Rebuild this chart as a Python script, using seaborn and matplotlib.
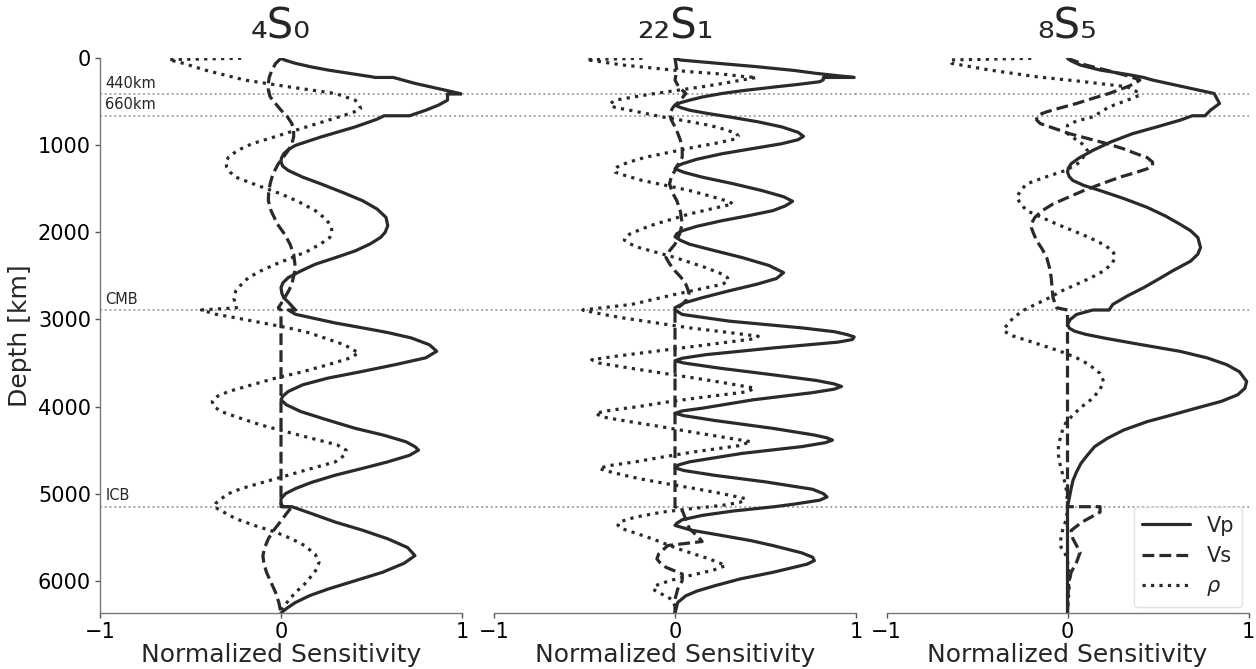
import numpy as np
import pandas as pd
import matplotlib
matplotlib.use("Agg")
import matplotlib.pyplot as plt
from matplotlib.lines import Line2D
import seaborn as sns

# ---------------- data ----------------
titles = ["\u2084S\u2080", "\u2082\u2082S\u2081", "\u2088S\u2085"]
series_labels = ["Vp", "Vs", r"$\rho$"]
boundary_depths = [410, 660, 2891, 5150]
boundary_labels = ["440km", "660km", "CMB", "ICB"]
x_ticks = [-1, 0, 1]
y_ticks = [0, 1000, 2000, 3000, 4000, 5000, 6000]

# panel 1 : 4S0
d_vp1 = [0, 20, 58, 100, 135, 180, 212, 220, 220, 288, 358, 410, 410, 481, 538, 596, 660, 660, 700, 788, 904,
         1000, 1050, 1096, 1150, 1192, 1240, 1288, 1365, 1442, 1540, 1635, 1730, 1827, 1923, 2000, 2058, 2135,
         2212, 2290, 2365, 2442, 2519, 2580, 2635, 2700, 2750, 2800, 2846, 2891, 2891, 2940, 2981, 3040, 3096,
         3150, 3212, 3290, 3365, 3440, 3519, 3600, 3673, 3750, 3827, 3880, 3923, 3980, 4058, 4150, 4250, 4330,
         4404, 4460, 4500, 4560, 4635, 4710, 4788, 4870, 4942, 5000, 5058, 5110, 5150, 5150, 5230, 5327, 5420,
         5519, 5620, 5712, 5800, 5904, 6000, 6096, 6170, 6250, 6320, 6371]
v_vp1 = [0, 0.02, 0.08, 0.17, 0.26, 0.40, 0.50, 0.52, 0.62, 0.74, 0.89, 1.0, 0.92, 0.92, 0.87, 0.80, 0.71, 0.57,
         0.53, 0.41, 0.22, 0.08, 0.04, 0.015, 0.002, 0.0, 0.01, 0.04, 0.12, 0.22, 0.34, 0.45, 0.53, 0.58, 0.59,
         0.575, 0.55, 0.49, 0.41, 0.30, 0.19, 0.11, 0.04, 0.01, 0.0, 0.005, 0.015, 0.04, 0.06, 0.08, 0.04, 0.08,
         0.17, 0.30, 0.45, 0.59, 0.72, 0.82, 0.86, 0.80, 0.63, 0.44, 0.26, 0.12, 0.04, 0.01, 0.0, 0.03, 0.11,
         0.25, 0.41, 0.57, 0.69, 0.74, 0.76, 0.71, 0.59, 0.45, 0.30, 0.17, 0.08, 0.025, 0.0, 0.0, 0.01, 0.06,
         0.17, 0.30, 0.45, 0.59, 0.70, 0.74, 0.68, 0.56, 0.41, 0.26, 0.16, 0.08, 0.03, 0.0]
d_vs1 = [0, 60, 135, 220, 288, 360, 442, 520, 596, 670, 750, 830, 904, 980, 1058, 1130, 1212, 1330, 1442, 1540,
         1635, 1750, 1904, 2020, 2135, 2250, 2365, 2450, 2596, 2680, 2750, 2820, 2865, 2891, 5150, 5150, 5230,
         5327, 5420, 5519, 5620, 5712, 5800, 5904, 6020, 6135, 6250, 6371]
v_vs1 = [0, -0.03, -0.05, -0.065, -0.07, -0.07, -0.06, -0.03, 0.0, 0.035, 0.06, 0.07, 0.07, 0.06, 0.04, 0.015,
         -0.015, -0.045, -0.06, -0.068, -0.07, -0.055, -0.02, 0.02, 0.05, 0.07, 0.077, 0.075, 0.06, 0.04, 0.02,
         0.0, -0.015, 0, 0, 0.06, 0.03, -0.005, -0.04, -0.07, -0.09, -0.10, -0.095, -0.08, -0.055, -0.03, -0.012, 0]
d_rho1 = [0, 15, 58, 135, 250, 327, 404, 481, 530, 577, 620, 673, 750, 827, 905, 981, 1058, 1135, 1190, 1250,
          1310, 1365, 1460, 1558, 1650, 1750, 1850, 1942, 2000, 2058, 2130, 2212, 2290, 2365, 2440, 2519, 2600,
          2673, 2760, 2865, 2891, 2940, 2981, 3040, 3096, 3150, 3212, 3290, 3385, 3450, 3519, 3600, 3673, 3750,
          3827, 3880, 3942, 4000, 4058, 4130, 4212, 4290, 4365, 4440, 4500, 4560, 4635, 4710, 4788, 4865, 4942,
          5000, 5058, 5110, 5150, 5220, 5288, 5370, 5442, 5520, 5596, 5700, 5788, 5860, 5942, 6040, 6135, 6230,
          6327, 6371]
v_rho1 = [-0.22, -0.62, -0.54, -0.42, -0.20, 0.04, 0.30, 0.41, 0.43, 0.44, 0.40, 0.32, 0.20, 0.08, -0.04, -0.16,
          -0.24, -0.29, -0.305, -0.30, -0.28, -0.25, -0.13, 0.0, 0.10, 0.19, 0.25, 0.28, 0.28, 0.27, 0.22, 0.15,
          0.06, -0.03, -0.11, -0.18, -0.22, -0.25, -0.26, -0.245, -0.44, -0.36, -0.25, -0.10, 0.04, 0.15, 0.24,
          0.35, 0.43, 0.37, 0.26, 0.12, -0.03, -0.16, -0.29, -0.35, -0.38, -0.37, -0.33, -0.23, -0.11, 0.03, 0.17,
          0.31, 0.36, 0.35, 0.30, 0.17, 0.04, -0.09, -0.22, -0.29, -0.33, -0.36, -0.37, -0.31, -0.25, -0.14, -0.03,
          0.06, 0.13, 0.19, 0.21, 0.20, 0.17, 0.13, 0.08, 0.04, 0.005, 0]

# panel 2 : 22S1
d_vp2 = [0, 20, 60, 96, 140, 173, 200, 220, 220, 245, 269, 300, 327, 370, 404, 445, 481, 510, 538, 565, 596,
         630, 673, 730, 788, 850, 896, 935, 981, 1040, 1096, 1160, 1212, 1240, 1269, 1310, 1365, 1440, 1519,
         1590, 1642, 1695, 1750, 1810, 1865, 1930, 1981, 2015, 2050, 2090, 2135, 2210, 2288, 2380, 2462, 2530,
         2596, 2670, 2750, 2810, 2865, 2891, 2942, 3019, 3096, 3140, 3173, 3200, 3230, 3260, 3327, 3404, 3445,
         3473, 3500, 3560, 3635, 3700, 3740, 3769, 3800, 3840, 3923, 4019, 4050, 4077, 4105, 4160, 4250, 4327,
         4360, 4385, 4415, 4460, 4538, 4635, 4670, 4704, 4735, 4790, 4865, 4950, 5000, 5038, 5075, 5120, 5150,
         5200, 5250, 5300, 5340, 5365, 5420, 5481, 5540, 5596, 5680, 5730, 5769, 5810, 5904, 5980, 6058, 6120,
         6173, 6250, 6371]
v_vp2 = [0, 0.03, 0.25, 0.45, 0.66, 0.78, 0.90, 0.99, 0.82, 0.82, 0.80, 0.68, 0.56, 0.38, 0.26, 0.15, 0.08, 0.03,
         0.0, 0.03, 0.08, 0.17, 0.30, 0.46, 0.59, 0.68, 0.71, 0.68, 0.59, 0.42, 0.26, 0.12, 0.04, 0.01, 0.0, 0.05,
         0.15, 0.32, 0.48, 0.60, 0.65, 0.61, 0.54, 0.40, 0.26, 0.12, 0.04, 0.01, 0.0, 0.03, 0.08, 0.22, 0.37, 0.52,
         0.60, 0.56, 0.45, 0.30, 0.15, 0.05, 0.0, 0.0, 0.04, 0.30, 0.70, 0.88, 0.95, 0.99, 0.98, 0.90, 0.54, 0.17,
         0.04, 0.0, 0.05, 0.25, 0.54, 0.78, 0.88, 0.92, 0.88, 0.76, 0.43, 0.15, 0.04, 0.0, 0.05, 0.22, 0.54, 0.77,
         0.84, 0.87, 0.83, 0.70, 0.37, 0.08, 0.02, 0.0, 0.05, 0.22, 0.50, 0.76, 0.82, 0.84, 0.80, 0.66, 0.55, 0.32,
         0.15, 0.04, 0.01, 0.0, 0.09, 0.26, 0.42, 0.54, 0.70, 0.76, 0.77, 0.73, 0.54, 0.36, 0.22, 0.12, 0.06, 0.015, 0]
d_vs2 = [0, 135, 250, 327, 404, 481, 560, 635, 710, 788, 860, 942, 1040, 1135, 1210, 1288, 1360, 1442, 1540,
         1635, 1760, 1904, 2020, 2135, 2210, 2288, 2360, 2442, 2520, 2596, 2660, 2712, 2770, 2827, 2891, 5150,
         5192, 5300, 5404, 5500, 5550, 5596, 5692, 5750, 5800, 5846, 5923, 6000, 6096, 6212, 6371]
v_vs2 = [0, 0.01, 0.0, 0.02, 0.06, 0.03, -0.01, -0.03, -0.02, 0.0, 0.015, 0.03, 0.04, 0.04, 0.02, 0.0, -0.02,
         -0.03, -0.015, 0.01, 0.03, 0.04, 0.025, 0.0, -0.03, -0.05, -0.03, 0.0, 0.035, 0.06, 0.072, 0.077, 0.065,
         0.04, 0.0, 0.0, 0.04, 0.06, 0.08, 0.13, 0.15, -0.04, -0.09, -0.10, -0.08, -0.05, 0.04, 0.04, 0.015, 0.0, 0]
d_rho2 = [0, 15, 77, 115, 154, 181, 212, 220, 250, 290, 327, 365, 404, 445, 481, 510, 538, 565, 596, 635, 673,
          720, 769, 820, 865, 895, 923, 970, 1019, 1080, 1135, 1195, 1250, 1280, 1308, 1350, 1404, 1460, 1519,
          1580, 1635, 1660, 1673, 1720, 1788, 1850, 1904, 1965, 2019, 2055, 2088, 2130, 2173, 2230, 2288, 2350,
          2404, 2470, 2519, 2560, 2596, 2650, 2712, 2770, 2827, 2891, 2940, 2981, 3040, 3096, 3150, 3192, 3220,
          3250, 3310, 3365, 3420, 3462, 3500, 3558, 3615, 3673, 3730, 3788, 3830, 3904, 3950, 4000, 4040, 4077,
          4120, 4173, 4230, 4288, 4350, 4404, 4450, 4519, 4580, 4635, 4680, 4712, 4760, 4827, 4885, 4942, 5000,
          5058, 5100, 5135, 5175, 5212, 5270, 5327, 5365, 5404, 5460, 5519, 5580, 5635, 5690, 5750, 5800, 5827,
          5880, 5942, 6000, 6058, 6100, 6135, 6212, 6288, 6371]
v_rho2 = [-0.18, -0.49, -0.29, -0.11, 0.08, 0.26, 0.39, 0.45, 0.37, 0.26, 0.15, 0.02, -0.11, -0.23, -0.33, -0.35,
          -0.36, -0.33, -0.25, -0.16, -0.07, 0.06, 0.19, 0.28, 0.34, 0.35, 0.34, 0.24, 0.11, -0.03, -0.16, -0.26,
          -0.32, -0.335, -0.33, -0.27, -0.18, -0.05, 0.08, 0.19, 0.28, 0.31, 0.32, 0.22, 0.08, -0.02, -0.11, -0.19,
          -0.25, -0.275, -0.28, -0.25, -0.20, -0.10, 0.0, 0.09, 0.17, 0.25, 0.29, 0.295, 0.26, 0.14, 0.0, -0.12,
          -0.24, -0.51, -0.40, -0.29, -0.10, 0.08, 0.30, 0.46, 0.44, 0.33, 0.10, -0.11, -0.32, -0.46, -0.42, -0.25,
          -0.07, 0.11, 0.28, 0.44, 0.40, 0.11, -0.05, -0.20, -0.35, -0.44, -0.40, -0.25, -0.08, 0.08, 0.26, 0.42,
          0.35, 0.11, -0.07, -0.22, -0.37, -0.42, -0.34, -0.20, -0.05, 0.11, 0.26, 0.39, 0.36, 0.26, 0.08, -0.07,
          -0.22, -0.31, -0.315, -0.29, -0.21, -0.125, -0.05, 0.02, 0.10, 0.19, 0.25, 0.28, 0.21, 0.08, -0.03,
          -0.11, -0.12, -0.09, -0.02, 0.0, 0]

# panel 3 : 8S5
d_vp3 = [0, 30, 77, 135, 192, 220, 250, 327, 404, 442, 519, 596, 660, 660, 712, 790, 865, 960, 1058, 1150, 1212,
         1260, 1308, 1360, 1404, 1460, 1519, 1610, 1712, 1810, 1904, 1980, 2058, 2173, 2250, 2330, 2442, 2540,
         2635, 2730, 2827, 2891, 2891, 2942, 3000, 3058, 3100, 3135, 3170, 3212, 3290, 3365, 3440, 3519, 3600,
         3712, 3790, 3865, 3940, 4019, 4100, 4173, 4270, 4365, 4460, 4558, 4650, 4750, 4850, 4942, 5050, 5150,
         6371]
v_vp3 = [0, 0.02, 0.07, 0.18, 0.35, 0.42, 0.47, 0.64, 0.81, 0.82, 0.84, 0.79, 0.76, 0.69, 0.62, 0.49, 0.36, 0.24,
         0.14, 0.06, 0.02, 0.005, 0.0, 0.01, 0.03, 0.09, 0.18, 0.31, 0.44, 0.54, 0.62, 0.68, 0.72, 0.735, 0.72,
         0.68, 0.58, 0.50, 0.42, 0.33, 0.25, 0.23, 0.14, 0.05, 0.015, 0.0, 0.01, 0.04, 0.10, 0.20, 0.41, 0.62,
         0.77, 0.88, 0.95, 0.99, 0.98, 0.94, 0.85, 0.71, 0.57, 0.44, 0.31, 0.22, 0.15, 0.11, 0.075, 0.05, 0.03,
         0.02, 0.01, 0.0, 0]
d_vs3 = [0, 77, 150, 212, 250, 290, 327, 404, 460, 519, 570, 615, 650, 673, 710, 750, 800, 865, 920, 981, 1040,
         1096, 1140, 1192, 1230, 1269, 1310, 1365, 1440, 1519, 1600, 1673, 1750, 1827, 1900, 1942, 2000, 2096,
         2190, 2288, 2400, 2519, 2640, 2750, 2865, 2891, 5150, 5150, 5212, 5327, 5423, 5519, 5673, 5788, 5904,
         6058, 6371]
v_vs3 = [0, 0.10, 0.24, 0.35, 0.40, 0.37, 0.33, 0.23, 0.14, 0.05, -0.04, -0.115, -0.16, -0.17, -0.17, -0.15,
         -0.08, 0.01, 0.11, 0.22, 0.31, 0.38, 0.44, 0.47, 0.47, 0.44, 0.38, 0.29, 0.19, 0.09, 0.0, -0.08, -0.14,
         -0.18, -0.20, -0.20, -0.19, -0.17, -0.14, -0.115, -0.10, -0.09, -0.085, -0.08, -0.06, 0.0, 0.0, 0.18,
         0.18, 0.08, 0.02, 0.03, 0.07, 0.05, 0.02, 0.005, 0]
d_rho3 = [0, 19, 58, 135, 212, 269, 308, 327, 380, 423, 481, 558, 673, 720, 769, 865, 981, 1058, 1192, 1288, 1370,
          1442, 1520, 1596, 1670, 1750, 1830, 1904, 1980, 2058, 2140, 2212, 2260, 2308, 2370, 2442, 2520, 2596,
          2670, 2750, 2820, 2891, 2980, 3058, 3100, 3135, 3190, 3250, 3310, 3365, 3440, 3519, 3620, 3712, 3800,
          3904, 4000, 4096, 4190, 4288, 4442, 4560, 4673, 4790, 4904, 5020, 5135, 5288, 5370, 5442, 5558, 5620,
          5673, 5750, 5827, 5940, 6058, 6200, 6371]
v_rho3 = [-0.20, -0.65, -0.64, -0.43, -0.17, 0.09, 0.25, 0.33, 0.38, 0.40, 0.33, 0.23, 0.14, 0.05, 0.0, 0.0, 0.08,
          0.11, 0.07, -0.01, -0.13, -0.225, -0.26, -0.28, -0.26, -0.225, -0.14, -0.06, 0.03, 0.12, 0.20, 0.25,
          0.26, 0.26, 0.24, 0.20, 0.13, 0.05, -0.03, -0.10, -0.17, -0.24, -0.30, -0.33, -0.35, -0.35, -0.30,
          -0.21, -0.12, -0.04, 0.05, 0.12, 0.18, 0.20, 0.18, 0.14, 0.08, 0.03, -0.01, -0.03, -0.05, -0.05, -0.04,
          -0.025, -0.01, -0.003, 0.0, -0.005, -0.02, -0.03, -0.04, -0.035, -0.015, -0.003, 0.005, 0.01, 0.01,
          0.005, 0]

panels = [
    [(d_vp1, v_vp1), (d_vs1, v_vs1), (d_rho1, v_rho1)],
    [(d_vp2, v_vp2), (d_vs2, v_vs2), (d_rho2, v_rho2)],
    [(d_vp3, v_vp3), (d_vs3, v_vs3), (d_rho3, v_rho3)],
]

# ---------------- style ----------------
sns.set_theme(style="ticks")
plt.rcParams["font.family"] = ["DejaVu Sans"]
line_color = "#2a2a2a"
styles = ["-", "--", ":"]

fig = plt.figure(figsize=(12.56, 6.69), dpi=100)
W, H = 1256, 669
lefts = [100, 494, 886.5]
ax_w = 362
top_px, bot_px = 58.3, 613
axes = []
for i in range(3):
    ax = fig.add_axes([lefts[i] / W, 1 - bot_px / H, ax_w / W, (bot_px - top_px) / H])
    axes.append(ax)

gap_frac = (lefts[1] - (lefts[0] + ax_w)) / ax_w

for i, ax in enumerate(axes):
    for (d, v), ls in zip(panels[i], styles):
        df = pd.DataFrame({"depth": d, "val": v})
        sns.lineplot(data=df, x="val", y="depth", sort=False, estimator=None, ax=ax,
                     color=line_color, linestyle=ls, linewidth=2.3)
    for ln in ax.get_lines():
        ln.set_solid_joinstyle("round")
        ln.set_dash_joinstyle("round")
    ax.set_xlim(-1, 1)
    ax.set_ylim(6371, 0)
    ax.set_xticks(x_ticks)
    ax.set_xticklabels(["\u22121", "0", "1"])
    ax.set_xlabel("Normalized Sensitivity", fontsize=18, labelpad=1)
    ax.set_title(titles[i], fontsize=30, pad=14)
    ax.tick_params(axis="both", labelsize=15, colors="#555555", labelcolor="black",
                   length=3.5, width=1, pad=3)
    for sp in ax.spines.values():
        sp.set_color("#777777")
        sp.set_linewidth(1.0)
    for bd in boundary_depths:
        if i == 0:
            ax.axhline(bd, color="#999999", linestyle=":", linewidth=1.3, zorder=0)
        else:
            ax.axhline(bd, xmin=-gap_frac, xmax=1, color="#999999", linestyle=":", linewidth=1.3,
                       zorder=0, clip_on=False)
    if i == 0:
        ax.set_yticks(y_ticks)
        ax.set_ylabel("Depth [km]", fontsize=18, labelpad=4)
        sns.despine(ax=ax)
        for bd, lab in zip(boundary_depths, boundary_labels):
            ax.text(-0.97, bd - 40, lab, fontsize=10.5, ha="left", va="bottom")
    else:
        ax.set_yticks([])
        ax.set_ylabel("")
        sns.despine(ax=ax, left=True)

handles = [Line2D([0], [0], color=line_color, linestyle=ls, linewidth=2.3) for ls in styles]
leg = axes[2].legend(handles, series_labels, loc="lower right", fontsize=15, frameon=True,
                     handlelength=2.3, borderaxespad=0.3)
leg.get_frame().set_edgecolor("#dddddd")

fig.savefig("out.png", dpi=100)
